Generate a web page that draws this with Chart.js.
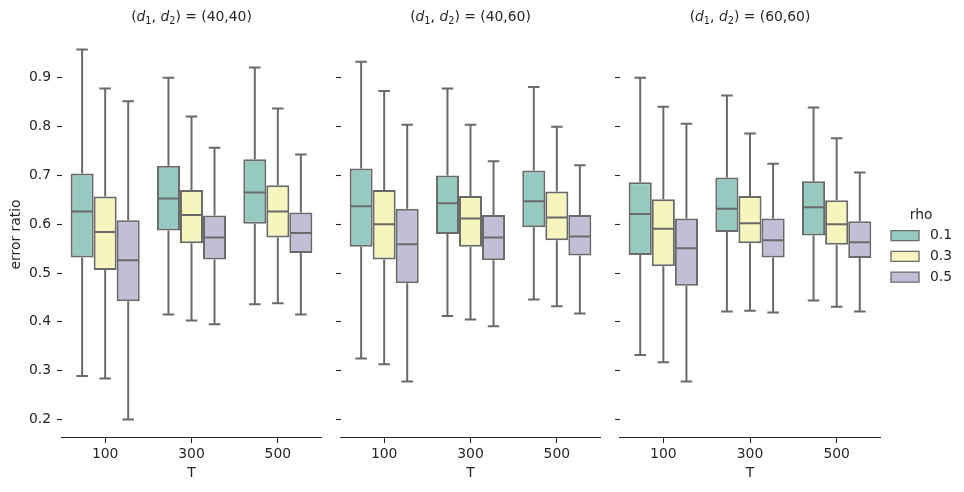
<!DOCTYPE html>
<html>
<head>
<meta charset="utf-8">
<script src="https://cdn.jsdelivr.net/npm/chart.js@4.4.1/dist/chart.umd.min.js"></script>
<style>
html, body { margin: 0; padding: 0; background: #ffffff; }
#wrap { position: relative; width: 964px; height: 492px; overflow: hidden; }
.pane { position: absolute; top: 0; height: 492px; }
canvas { display: block; }
</style>
</head>
<body>
<div id="wrap">
  <div class="pane" style="left:0px;width:331px"><canvas id="c0" width="331" height="492"></canvas></div>
  <div class="pane" style="left:331px;width:279px"><canvas id="c1" width="279" height="492"></canvas></div>
  <div class="pane" style="left:610px;width:354px"><canvas id="c2" width="354" height="492"></canvas></div>
</div>
<script>
// ---------------- data ----------------
const categories = ['100', '300', '500'];          // T
const rhoLevels = ['0.1', '0.3', '0.5'];           // hue
const facetValues = ['(40,40)', '(40,60)', '(60,60)'];
const yTicks = [0.2, 0.3, 0.4, 0.5, 0.6, 0.7, 0.8, 0.9];
const yMin = 0.162;
const yMax = 0.996;

// [lower whisker, Q1, median, Q3, upper whisker] for T = 100, 300, 500
const f4040_rho01 = [[0.289, 0.532, 0.626, 0.704, 0.958], [0.415, 0.587, 0.653, 0.720, 0.900], [0.436, 0.601, 0.665, 0.733, 0.921]];
const f4040_rho03 = [[0.284, 0.506, 0.584, 0.657, 0.878], [0.403, 0.561, 0.619, 0.670, 0.821], [0.438, 0.573, 0.626, 0.680, 0.837]];
const f4040_rho05 = [[0.200, 0.442, 0.526, 0.608, 0.852], [0.395, 0.528, 0.573, 0.618, 0.757], [0.415, 0.541, 0.582, 0.624, 0.743]];

const f4060_rho01 = [[0.325, 0.554, 0.637, 0.714, 0.933], [0.412, 0.580, 0.643, 0.700, 0.878], [0.446, 0.594, 0.647, 0.710, 0.881]];
const f4060_rho03 = [[0.313, 0.528, 0.600, 0.670, 0.873], [0.405, 0.554, 0.612, 0.658, 0.804], [0.432, 0.567, 0.614, 0.667, 0.800]];
const f4060_rho05 = [[0.278, 0.479, 0.559, 0.632, 0.804], [0.391, 0.526, 0.573, 0.619, 0.729], [0.417, 0.536, 0.575, 0.619, 0.721]];

const f6060_rho01 = [[0.332, 0.537, 0.621, 0.686, 0.900], [0.421, 0.584, 0.632, 0.696, 0.864], [0.444, 0.577, 0.635, 0.688, 0.839]];
const f6060_rho03 = [[0.317, 0.514, 0.591, 0.651, 0.841], [0.423, 0.561, 0.602, 0.658, 0.786], [0.431, 0.558, 0.600, 0.649, 0.776]];
const f6060_rho05 = [[0.278, 0.474, 0.551, 0.612, 0.806], [0.419, 0.532, 0.567, 0.612, 0.724], [0.421, 0.531, 0.563, 0.606, 0.706]];

// ---------------- styles ----------------
const boxColors = ['#96cac1', '#f5f5bd', '#c1bed6'];
const lineColor = '#6a6a6a';
const textColor = '#262626';
const FS = 13.9;
const FAMILY = '"DejaVu Sans", sans-serif';

Chart.defaults.font.family = FAMILY;
Chart.defaults.font.size = FS;
Chart.defaults.color = textColor;

// whiskers, caps and medians drawn through the chart's own scales / bar elements
const boxWhiskerPlugin = {
  id: 'boxWhisker',
  afterDatasetsDraw(chart) {
    const ctx = chart.ctx;
    const yScale = chart.scales.y;
    ctx.save();
    chart.data.datasets.forEach((ds, di) => {
      const meta = chart.getDatasetMeta(di);
      meta.data.forEach((el, i) => {
        const s = ds.stats[i];
        const p = el.getProps(['x', 'width'], true);
        const x = p.x, w = p.width;
        const yLo = yScale.getPixelForValue(s[0]);
        const yQ1 = yScale.getPixelForValue(s[1]);
        const yMed = yScale.getPixelForValue(s[2]);
        const yQ3 = yScale.getPixelForValue(s[3]);
        const yHi = yScale.getPixelForValue(s[4]);
        ctx.strokeStyle = lineColor;
        ctx.lineWidth = 2;
        ctx.lineCap = 'butt';
        ctx.beginPath();
        ctx.moveTo(x, yQ1); ctx.lineTo(x, yLo);
        ctx.moveTo(x, yQ3); ctx.lineTo(x, yHi);
        ctx.moveTo(x - w / 4, yLo); ctx.lineTo(x + w / 4, yLo);
        ctx.moveTo(x - w / 4, yHi); ctx.lineTo(x + w / 4, yHi);
        ctx.moveTo(x - w / 2 + 1, yMed); ctx.lineTo(x + w / 2 - 1, yMed);
        ctx.stroke();
      });
    });
    ctx.restore();
  }
};

// facet title "(d_1, d_2) = (..)" with italic d and subscripts
const facetTitlePlugin = {
  id: 'facetTitle',
  afterDraw(chart, args, opts) {
    const ctx = chart.ctx;
    const ca = chart.chartArea;
    const sub = FS * 0.7;
    const normal = FS + 'px ' + FAMILY;
    const italic = 'italic ' + FS + 'px ' + FAMILY;
    const small = sub + 'px ' + FAMILY;
    const parts = [
      { t: '(', f: normal, dy: 0 },
      { t: 'd', f: italic, dy: 0 },
      { t: '1', f: small, dy: 2.8 },
      { t: ', ', f: normal, dy: 0 },
      { t: 'd', f: italic, dy: 0 },
      { t: '2', f: small, dy: 2.8 },
      { t: ') = ' + opts.value, f: normal, dy: 0 }
    ];
    ctx.save();
    let total = 0;
    parts.forEach(pt => { ctx.font = pt.f; pt.w = ctx.measureText(pt.t).width; total += pt.w; });
    let x = (ca.left + ca.right) / 2 - total / 2;
    const base = 21;
    ctx.fillStyle = textColor;
    ctx.textBaseline = 'alphabetic';
    ctx.textAlign = 'left';
    parts.forEach(pt => { ctx.font = pt.f; ctx.fillText(pt.t, x, base + pt.dy); x += pt.w; });
    ctx.restore();
  }
};

// places legend block at the reference position
const legendPlacePlugin = {
  id: 'legendPlace',
  afterLayout(chart, args, opts) {
    const lg = chart.legend;
    if (!lg || !chart.options.plugins.legend.display) return;
    lg.left = opts.left;
    lg.right = opts.right;
    const h = lg.bottom - lg.top;
    lg.top = opts.top; lg.bottom = opts.top + h;
  }
};

function makeChart(canvasId, idx, series, yWidth, padRight, showLegend) {
  const datasets = series.map((s, h) => ({
    label: rhoLevels[h],
    data: s.map(v => [v[1], v[3]]),
    stats: s,
    backgroundColor: boxColors[h],
    borderColor: lineColor,
    borderWidth: 2,
    borderSkipped: false,
    categoryPercentage: 0.8,
    barPercentage: 1.0
  }));
  return new Chart(document.getElementById(canvasId), {
    type: 'bar',
    data: { labels: categories, datasets: datasets },
    options: {
      responsive: false,
      animation: false,
      layout: { padding: { left: 0, right: padRight, top: 31, bottom: 0 } },
      scales: {
        x: {
          type: 'category',
          offset: true,
          grid: { display: true, drawOnChartArea: false, drawTicks: true, tickLength: 5, tickColor: textColor, tickWidth: 1.1, offset: false },
          border: { display: true, color: textColor, width: 1.1 },
          ticks: { color: textColor, font: { size: FS }, padding: 3, maxRotation: 0 },
          title: { display: true, text: 'T', color: textColor, font: { size: FS }, padding: { top: 0, bottom: 10.7 } },
          afterFit: s => { s.height = 54; }
        },
        y: {
          type: 'linear',
          min: yMin,
          max: yMax,
          afterBuildTicks: s => { s.ticks = yTicks.map(v => ({ value: v })); },
          grid: { display: true, drawOnChartArea: false, drawTicks: true, tickLength: 5, tickColor: textColor, tickWidth: 1.1 },
          border: { display: false },
          ticks: {
            color: textColor, font: { size: FS }, padding: 6, autoSkip: false,
            callback: (v) => idx === 0 ? Number(v).toFixed(1) : ''
          },
          title: { display: idx === 0, text: 'error ratio', color: textColor, font: { size: FS }, padding: { top: 7.7, bottom: 0 } },
          afterFit: s => { s.width = yWidth; }
        }
      },
      plugins: {
        tooltip: { enabled: false },
        facetTitle: { value: facetValues[idx] },
        legendPlace: { left: 891 - 610 - 6.8, right: 952 - 610, top: 208 },
        legend: {
          display: showLegend,
          position: 'right',
          align: 'start',
          labels: {
            boxWidth: 28, boxHeight: 10, padding: 6.8, color: textColor, font: { size: FS },
            textAlign: 'right',
            generateLabels: (chart) => {
              const items = Chart.defaults.plugins.legend.labels.generateLabels(chart);
              items.forEach(it => { it.lineWidth = 1.3; it.strokeStyle = lineColor; });
              return items;
            }
          },
          title: { display: true, text: 'rho', color: textColor, font: { size: FS, lineHeight: 1 }, padding: 0 }
        }
      }
    },
    plugins: [boxWhiskerPlugin, facetTitlePlugin, legendPlacePlugin]
  });
}

const c0 = makeChart('c0', 0, [f4040_rho01, f4040_rho03, f4040_rho05], 62, 10, false);
const c1 = makeChart('c1', 1, [f4060_rho01, f4060_rho03, f4060_rho05], 10, 10, false);
const c2 = makeChart('c2', 2, [f6060_rho01, f6060_rho03, f6060_rho05], 10, 12, true);
// make the last panel's plot area end where the reference's does
const diff = 270 - c2.chartArea.right;
c2.options.layout.padding.right = Math.max(0, 12 - diff);
c2.update();
</script>
</body>
</html>
